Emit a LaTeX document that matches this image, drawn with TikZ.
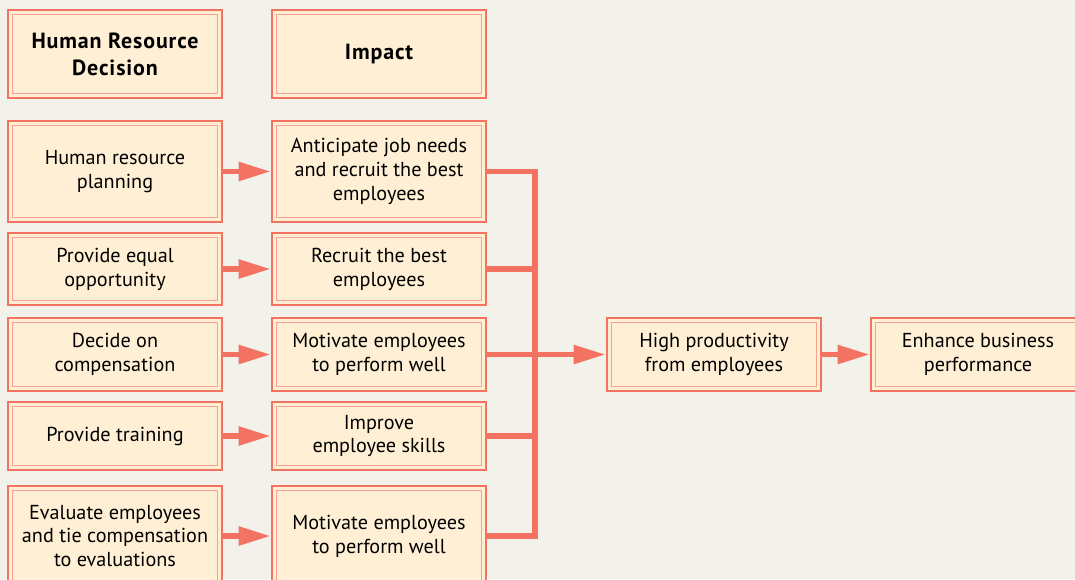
\documentclass[tikz,border=0pt]{standalone}
\usepackage{fontspec}
\setmainfont{PT Sans}
\usepackage{tikz}
\usetikzlibrary{arrows.meta,positioning}
\definecolor{hrCoral}{RGB}{243,114,98}
\definecolor{hrLine}{RGB}{246,160,145}
\definecolor{hrFill}{RGB}{255,240,213}
\definecolor{hrBack}{RGB}{242,242,234}

\begin{document}
\begin{tikzpicture}[
  x=0.02cm, y=-0.02cm, font=\fontsize{11.5}{13.6}\selectfont,
  box/.style={rectangle, draw=hrCoral, line width=1.5pt, fill=hrFill,
              minimum width=4.28cm, align=center, inner sep=2pt,
              path picture={\draw[hrLine, line width=0.6pt]
                ([shift={(2.6pt,-2.6pt)}]path picture bounding box.north west) rectangle
                ([shift={(-2.6pt,2.6pt)}]path picture bounding box.south east);}},
  hbox/.style={box, font=\fontsize{12.5}{15.4}\selectfont\bfseries\addfontfeatures{LetterSpace=4}},
  conn/.style={draw=hrCoral, line width=3.1pt, line join=miter},
  arr/.style={conn, -{Triangle[length=0.64cm, width=0.36cm]}}]

  \fill[hrBack] (0,0) rectangle (1075,579);
  \clip (0,0) rectangle (1075,579);

  % headings
  \node[hbox, minimum height=1.76cm] (hd) at (115,54) {Human Resource\\Decision};
  \node[hbox, minimum height=1.76cm] (hi) at (379,54) {Impact};

  % decisions
  \node[box, minimum height=2.02cm] (d1) at (115,171.5) {Human resource\\planning};
  \node[box, minimum height=1.44cm] (d2) at (115,269) {Provide equal\\opportunity};
  \node[box, minimum height=1.46cm] (d3) at (115,354.5) {Decide on\\compensation};
  \node[box, minimum height=1.36cm] (d4) at (115,436) {Provide training};
  \node[box, minimum height=2.0cm] (d5) at (115,536) {Evaluate employees\\and tie compensation\\to evaluations};

  % impacts
  \node[box, minimum height=2.02cm] (m1) at (379,171.5) {Anticipate job needs\\and recruit the best\\employees};
  \node[box, minimum height=1.44cm] (m2) at (379,269) {Recruit the best\\employees};
  \node[box, minimum height=1.46cm] (m3) at (379,354.5) {Motivate employees\\to perform well};
  \node[box, minimum height=1.36cm] (m4) at (379,436) {Improve\\employee skills};
  \node[box, minimum height=2.0cm] (m5) at (379,536) {Motivate employees\\to perform well};

  % outcomes
  \node[box, minimum height=1.46cm] (hp) at (714,354.5) {High productivity\\from employees};
  \node[box, minimum height=1.46cm] (eb) at (978,354.5) {Enhance business\\performance};

  \coordinate (bus) at (535,354.5);

  \foreach \i in {1,...,5} {
    \draw[arr] (d\i) -- (m\i);
    \draw[conn] (m\i.east) -| (bus);
  }
  \draw[arr] (bus) -- (hp);
  \draw[arr] (hp) -- (eb);
\end{tikzpicture}
\end{document}
